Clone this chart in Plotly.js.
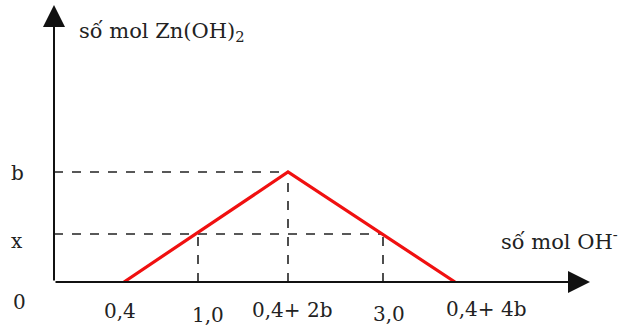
<!DOCTYPE html>
<html>
<head>
<meta charset="utf-8">
<script src="https://cdn.plot.ly/plotly-3.0.1.min.js"></script>
<style>html,body{margin:0;padding:0;background:#fff;}#chart{width:629px;height:335px;}</style>
</head>
<body>
<div id="chart"></div>
<script>
// Schematic positions (the drawing is not to scale)
const xTickLabels = ["0,4", "1,0", "0,4+ 2b", "3,0", "0,4+ 4b"];
const xTickPos    = [0.70, 1.44, 2.34, 3.29, 4.01];
const yTickLabels = ["0", "x", "b"];
const yTickPos    = [0, 0.48, 1.10];

// Red curve: 0,4 -> peak (0,4+2b, b) -> 0,4+4b
const curveX = [xTickPos[0], xTickPos[2], xTickPos[4]];
const curveY = [yTickPos[0], yTickPos[2], yTickPos[0]];

const yTitle = "số mol Zn(OH)<sub>2</sub>";
const xTitle = "số mol OH<sup>-</sup>";

const font = {family: "DejaVu Serif, Liberation Serif, serif", size: 20, color: "#222"};
const titleFont = {family: "DejaVu Serif, Liberation Serif, serif", size: 21, color: "#222"};
const dashStyle = {color: "#222", width: 1.6, dash: "dash"};

const traces = [
  // dashed guides
  {x: [0, xTickPos[2]], y: [yTickPos[2], yTickPos[2]], mode: "lines", line: dashStyle, hoverinfo: "skip"},
  {x: [0, xTickPos[3]], y: [yTickPos[1], yTickPos[1]], mode: "lines", line: dashStyle, hoverinfo: "skip"},
  {x: [xTickPos[1], xTickPos[1]], y: [0, yTickPos[1]], mode: "lines", line: dashStyle, hoverinfo: "skip"},
  {x: [xTickPos[2], xTickPos[2]], y: [0, yTickPos[2]], mode: "lines", line: dashStyle, hoverinfo: "skip"},
  {x: [xTickPos[3], xTickPos[3]], y: [0, yTickPos[1]], mode: "lines", line: dashStyle, hoverinfo: "skip"},
  // red curve
  {x: curveX, y: curveY, mode: "lines", line: {color: "#f01010", width: 3.2}, hoverinfo: "skip"}
];

// label offsets (layout only)
const xLabelShift = [-4, 10, 4, 6, 31];
const xLabelY = [-29, -33, -28, -32, -27];

const annotations = [
  // axes with arrows
  {x: 5.36, y: 0, ax: 0, ay: 0, xref: "x", yref: "y", axref: "x", ayref: "y",
   showarrow: true, arrowhead: 2, arrowsize: 2.2, arrowwidth: 2, arrowcolor: "#111", text: ""},
  {x: 0, y: 2.77, ax: 0, ay: 0, xref: "x", yref: "y", axref: "x", ayref: "y",
   showarrow: true, arrowhead: 2, arrowsize: 2.2, arrowwidth: 2, arrowcolor: "#111", text: ""},
  // axis titles
  {x: 0.23, y: 2.5, xref: "x", yref: "y", xanchor: "left", yanchor: "middle", showarrow: false, text: yTitle, font: titleFont},
  {x: 0.985, y: 0.42, xref: "paper", yref: "y", xanchor: "right", yanchor: "middle", showarrow: false, text: xTitle, font: titleFont}
];
xTickLabels.forEach((t, i) => {
  annotations.push({x: xTickPos[i], y: 0, xref: "x", yref: "y", xshift: xLabelShift[i], yshift: xLabelY[i],
    xanchor: "center", yanchor: "middle", showarrow: false, text: t, font: font});
});
const yLabelShift = [-20, -7, -1];
const yLabelX = [-0.06, -0.064, -0.064];
yTickLabels.forEach((t, i) => {
  annotations.push({x: yLabelX[i], y: yTickPos[i], xref: "paper", yref: "y", yshift: yLabelShift[i],
    xanchor: "center", yanchor: "middle", showarrow: false, text: t, font: font});
});

const layout = {
  width: 629, height: 335,
  margin: {l: 54, r: 0, t: 0, b: 53},
  paper_bgcolor: "#fff", plot_bgcolor: "#fff",
  showlegend: false,
  xaxis: {range: [0, 5.75], showgrid: false, zeroline: false, showticklabels: false, ticks: "", showline: false, fixedrange: true},
  yaxis: {range: [0, 2.82], showgrid: false, zeroline: false, showticklabels: false, ticks: "", showline: false, fixedrange: true},
  annotations: annotations
};

Plotly.newPlot("chart", traces, layout, {staticPlot: true, displayModeBar: false});
</script>
</body>
</html>
